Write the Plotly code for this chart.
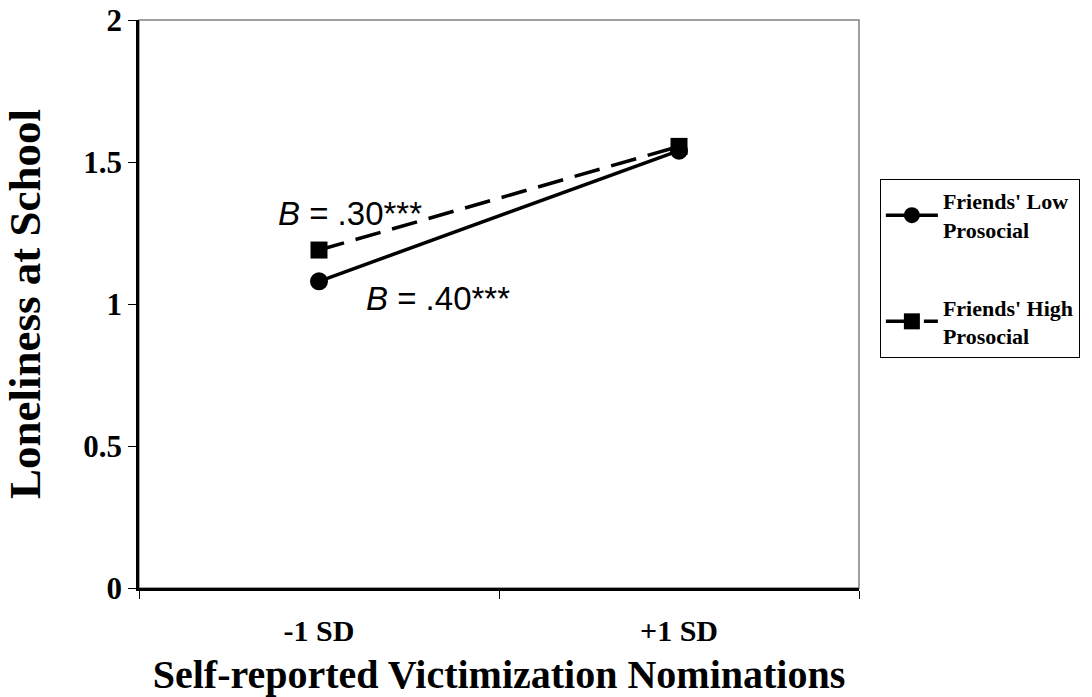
import plotly.graph_objects as go

categories = ["-1 SD", "+1 SD"]
category_labels = ["-1 SD", "+1 SD"]
low_prosocial = [1.08, 1.54]
high_prosocial = [1.19, 1.555]
series_names = ["Friends' Low<br>Prosocial", "Friends' High<br>Prosocial"]
y_ticks = [0, 0.5, 1, 1.5, 2]
y_ticklabels = ["0", "0.5", "1", "1.5", "2"]

serif = "Liberation Serif, Times New Roman, serif"
sans = "Liberation Sans, Arial, sans-serif"


def bold_lines(s):
    return "<br>".join("<b>%s</b>" % p for p in s.split("<br>"))


fig = go.Figure()
fig.add_trace(go.Scatter(
    x=categories, y=low_prosocial, name=bold_lines(series_names[0]), mode="lines+markers",
    line=dict(color="black", width=3.5), marker=dict(symbol="circle", size=18, color="black"),
    legendgroup="a"))
fig.add_trace(go.Scatter(
    x=categories, y=high_prosocial, name=bold_lines(series_names[1]), mode="lines+markers",
    line=dict(color="black", width=3.5, dash="26px,12px"), marker=dict(symbol="square", size=17, color="black"),
    legendgroup="b"))

fig.add_shape(type="rect", xref="paper", yref="paper", x0=0, y0=0, x1=1, y1=1,
              line=dict(color="#808080", width=1.5), layer="below")

fig.add_annotation(x=0.293, y=0.659, xref="paper", yref="paper", xanchor="center", yanchor="middle",
                   text="<i>B</i> = .30***", showarrow=False,
                   font=dict(family=sans, size=33, color="black"))
fig.add_annotation(x=0.415, y=0.51, xref="paper", yref="paper", xanchor="center", yanchor="middle",
                   text="<i>B</i> = .40***", showarrow=False,
                   font=dict(family=sans, size=33, color="black"))

fig.update_layout(
    width=1092, height=697,
    margin=dict(l=139, r=220, t=20, b=109),
    paper_bgcolor="white", plot_bgcolor="white",
    hovermode=False,
    showlegend=True,
    legend=dict(x=1.029, y=0.72, xanchor="left", yanchor="top",
                bordercolor="black", borderwidth=1, bgcolor="white",
                font=dict(family=serif, size=22, color="black"),
                tracegroupgap=46, itemwidth=52),
    xaxis=dict(type="category", range=[-0.5, 1.5], tickson="boundaries",
               tickvals=categories, ticktext=["<b>%s</b>" % t for t in category_labels],
               ticks="outside", ticklen=8, tickcolor="black", tickwidth=1,
               ticklabelstandoff=14,
               showline=True, linecolor="black", linewidth=3, showgrid=False, automargin=False,
               tickfont=dict(family=serif, size=30, color="black"),
               title=dict(text="<b>Self-reported Victimization Nominations</b>",
                          font=dict(family=serif, size=40, color="black"), standoff=15)),
    yaxis=dict(range=[0, 2], tickvals=y_ticks, ticktext=["<b>%s</b>" % t for t in y_ticklabels],
               ticks="outside", ticklen=8, tickcolor="black", tickwidth=1,
               ticklabeloverflow="allow",
               showline=True, linecolor="black", linewidth=2.5, showgrid=False, zeroline=False,
               automargin=False,
               tickfont=dict(family=serif, size=31, color="black"),
               title=dict(text="<b>Loneliness at School</b>",
                          font=dict(family=serif, size=45, color="black"), standoff=37)),
)

fig.write_html("out.html", config={"displayModeBar": False, "responsive": False},
               post_script="document.body.style.margin='0px';")
